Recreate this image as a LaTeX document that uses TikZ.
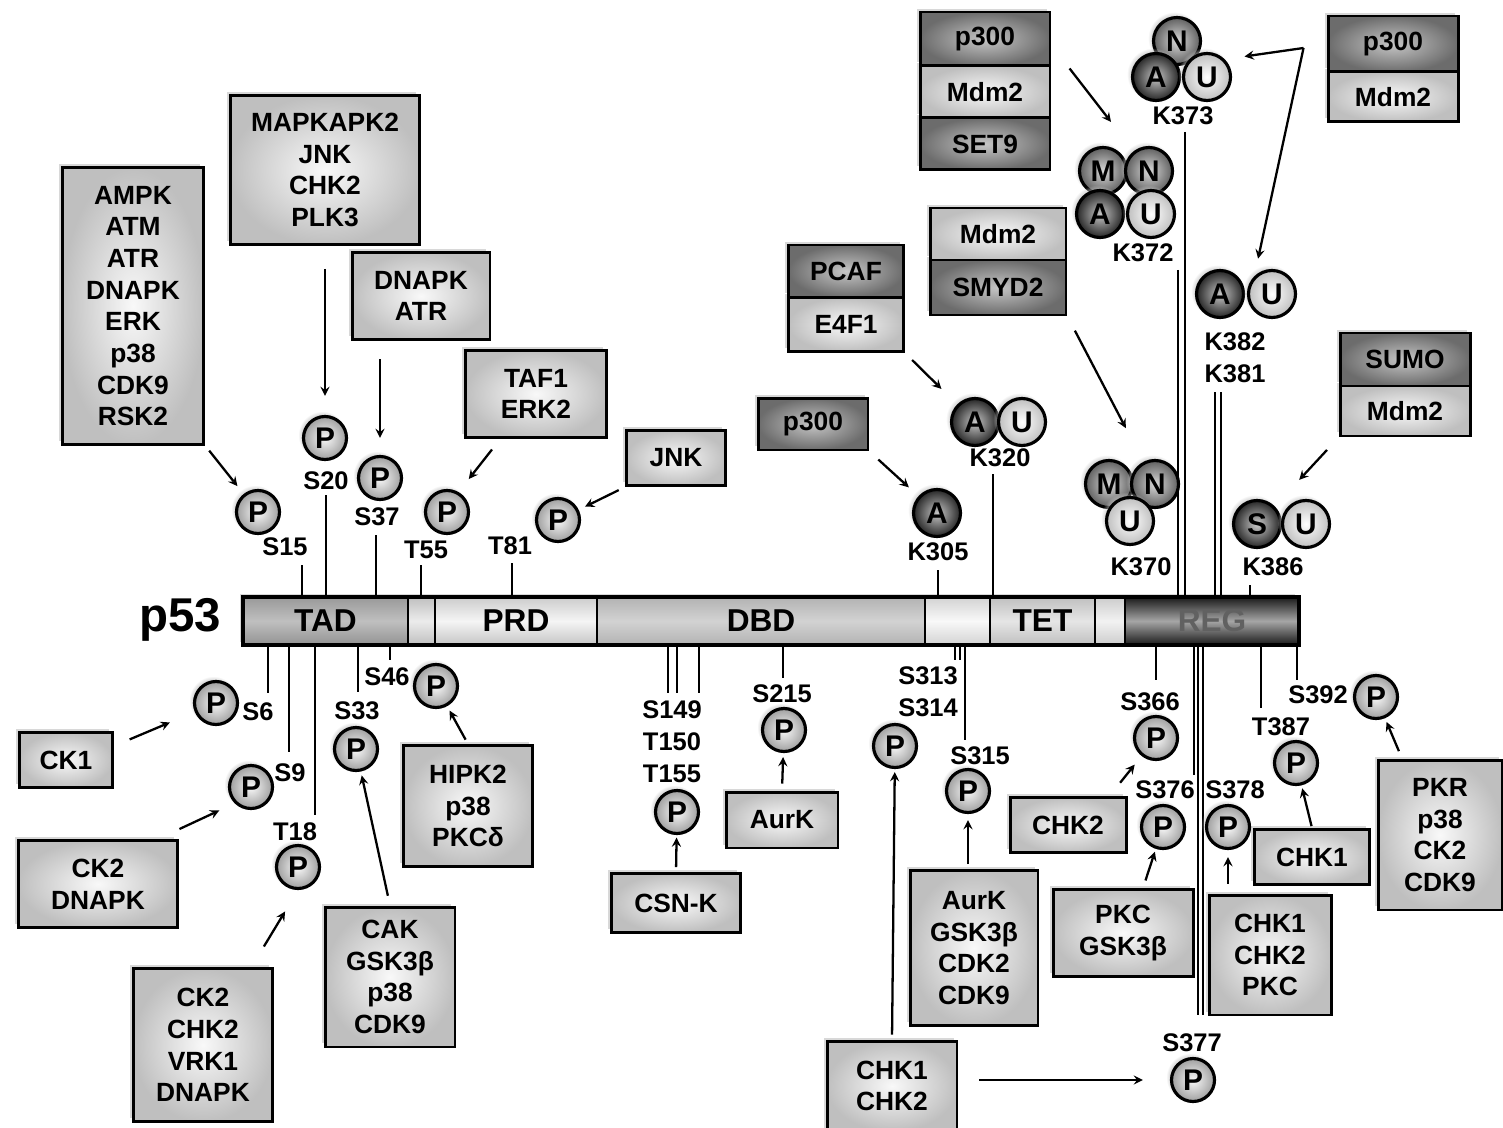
\documentclass[tikz,border=0pt]{standalone}
\usepackage{fontspec}
\setmainfont{Liberation Sans}
\usetikzlibrary{shadows}

\newcommand{\kinfont}{\bfseries\fontsize{15}{18}\selectfont}
\newcommand{\sitefont}{\bfseries\fontsize{14.5}{17}\selectfont}
\newcommand{\modfont}{\bfseries\fontsize{17}{17}\selectfont}
\newcommand{\segfont}{\bfseries\fontsize{18}{18}\selectfont}

\begin{document}
\begin{tikzpicture}[x=0.02cm, y=-0.02cm, >=stealth,
  halo/.style={drop shadow={shadow xshift=-0.07cm, shadow yshift=0.07cm, fill=gray!50, opacity=0.6}},
  kin/.style={draw, line width=1.7pt, halo, inner color=gray!5, outer color=gray!50, align=center, inner sep=0pt, font=\kinfont},
  kindark/.style={kin, inner color=gray!45, outer color=gray!85!black},
  mod/.style={circle, draw, line width=1.8pt, minimum size=0.94cm, inner sep=0pt, font=\modfont,
    circular drop shadow={shadow xshift=-0.05cm, shadow yshift=0.05cm, shadow scale=1.12, fill=gray!50, opacity=0.55}},
  pho/.style={mod, minimum size=0.86cm, inner color=gray!5, outer color=gray!75},
  acet/.style={mod, inner color=gray!45, outer color=black!85},
  methyl/.style={mod, inner color=gray!30, outer color=gray!75!black},
  ubq/.style={mod, inner color=white, outer color=gray!50},
  sumoy/.style={mod, inner color=gray!40, outer color=black!85},
  site/.style={font=\sitefont, inner sep=1pt},
  seg/.style={draw, line width=1.2pt, minimum height=0.96cm, inner sep=0pt, font=\segfont},
  stem/.style={line width=1.6pt},
  arr/.style={->, line width=1.3pt}]

\fill[white] (0,0) rectangle (1503,1128);
\useasboundingbox (0,0) rectangle (1503,1128);

% protein bar
\node[halo, fill=gray!40, minimum width=21.12cm, minimum height=0.96cm, inner sep=0pt] (bar) at (771,621) {};

% site stems
\foreach \x/\y in {302/565, 326/495, 376/535, 421/565, 512/563, 938/570, 993/474, 1178/270, 1185/132, 1215/392, 1221/392, 1250/585}
  \draw[stem] (\x,\y) -- (\x,\y |- bar.north);
\foreach \x/\y in {268/693, 289/752, 315/815, 358/692, 390/660, 668/693, 677/693, 699/693, 783/678, 955/660, 960/660, 965/740, 1156/680, 1194/775, 1198/1015, 1203/1015, 1261/708, 1297/680}
  \draw[stem] (\x,\y |- bar.south) -- (\x,\y);

\node[seg, minimum width=3.3cm, top color=gray!80, bottom color=gray!85, middle color=gray!50] (tad) at (325.5,621) {TAD};
\node[seg, minimum width=0.54cm, top color=gray!50, bottom color=gray!50, middle color=gray!15] (gapa) at (421.5,621) {};
\node[seg, minimum width=3.24cm, top color=gray!40, bottom color=gray!45, middle color=gray!8] (prd) at (516,621) {PRD};
\node[seg, minimum width=6.56cm, top color=gray!60, bottom color=gray!60, middle color=gray!35] (dbd) at (761,621) {DBD};
\node[seg, minimum width=1.3cm, top color=gray!35, bottom color=gray!35, middle color=gray!5] (gapb) at (957.5,621) {};
\node[seg, minimum width=2.1cm, top color=gray!50, bottom color=gray!50, middle color=gray!20] (tet) at (1042.5,621) {TET};
\node[seg, minimum width=0.6cm, top color=gray!40, bottom color=gray!40, middle color=gray!10] (gapc) at (1110,621) {};
\node[seg, minimum width=3.48cm, top color=black!90, bottom color=black!90, middle color=gray!70, text=black!62] (reg) at (1212,621) {REG};
\draw[line width=2.4pt] (bar.north west) rectangle (bar.south east);
\node[font=\bfseries\fontsize{27}{27}\selectfont] (p53) at (180,620) {p53};

% kinases and modifiers above
\node[kin, minimum width=2.84cm, minimum height=5.54cm] (ampk) at (133,306) {AMPK\\ATM\\ATR\\DNAPK\\ERK\\p38\\CDK9\\RSK2};
\node[kin, minimum width=3.8cm, minimum height=2.98cm] (mapk) at (325,170) {MAPKAPK2\\JNK\\CHK2\\PLK3};
\node[kin, minimum width=2.76cm, minimum height=1.76cm] (dnapk) at (421,296) {DNAPK\\ATR};
\node[kin, minimum width=2.82cm, minimum height=1.76cm] (taf) at (536,394) {TAF1\\ERK2};
\node[kin, minimum width=1.98cm, minimum height=1.1cm] (jnk) at (676,458) {JNK};
\node[kindark, minimum width=2.2cm, minimum height=1.04cm] (p300b) at (813,424) {p300};
\node[kin, minimum width=2.3cm, minimum height=1.08cm] (e4f1) at (846,324.5) {E4F1};
\node[kindark, minimum width=2.3cm, minimum height=1.04cm] (pcaf) at (846,271) {PCAF};
\node[kindark, minimum width=2.6cm, minimum height=1.04cm] (set9) at (985,144) {SET9};
\node[kin, minimum width=2.6cm, minimum height=1.04cm] (mdm2a) at (985,92) {Mdm2};
\node[kindark, minimum width=2.6cm, minimum height=1.08cm] (p300a) at (985,39) {p300};
\node[kindark, minimum width=2.72cm, minimum height=1.1cm] (smyd2) at (998,287.5) {SMYD2};
\node[kin, minimum width=2.72cm, minimum height=1.04cm] (mdm2b) at (998,234) {Mdm2};
\node[kin, minimum width=2.6cm, minimum height=1.0cm] (mdm2c) at (1393,97) {Mdm2};
\node[kindark, minimum width=2.6cm, minimum height=1.12cm] (p300c) at (1393,44) {p300};
\node[kin, minimum width=2.6cm, minimum height=1.0cm] (mdm2d) at (1405,411) {Mdm2};
\node[kindark, minimum width=2.6cm, minimum height=1.06cm] (sumo) at (1405,359.5) {SUMO};

% kinases below
\node[kin, minimum width=1.86cm, minimum height=1.1cm] (ck1) at (66,760) {CK1};
\node[kin, minimum width=3.2cm, minimum height=1.74cm] (ck2a) at (98,884) {CK2\\DNAPK};
\node[kin, minimum width=2.8cm, minimum height=3.06cm] (ck2b) at (203,1045) {CK2\\CHK2\\VRK1\\DNAPK};
\node[kin, minimum width=2.6cm, minimum height=2.8cm] (cak) at (390,977) {CAK\\GSK3β\\p38\\CDK9};
\node[kin, minimum width=2.58cm, minimum height=2.42cm] (hipk) at (468,806) {HIPK2\\p38\\PKCδ};
\node[kin, minimum width=2.58cm, minimum height=1.18cm] (csnk) at (676,903) {CSN-K};
\node[kin, minimum width=2.24cm, minimum height=1.12cm] (aurka) at (782,820) {AurK};
\node[kin, minimum width=2.6cm, minimum height=1.8cm] (chkb) at (892,1086) {CHK1\\CHK2};
\node[kin, minimum width=2.56cm, minimum height=3.1cm] (aurkb) at (974,948) {AurK\\GSK3β\\CDK2\\CDK9};
\node[kin, minimum width=2.32cm, minimum height=1.1cm] (chk2c) at (1068,825) {CHK2};
\node[kin, minimum width=2.8cm, minimum height=1.74cm] (pkc) at (1123,933) {PKC\\GSK3β};
\node[kin, minimum width=2.44cm, minimum height=2.4cm] (chkc) at (1270,955) {CHK1\\CHK2\\PKC};
\node[kin, minimum width=2.3cm, minimum height=1.1cm] (chk1r) at (1312,857) {CHK1};
\node[kin, minimum width=2.48cm, minimum height=3.0cm] (pkr) at (1440,835) {PKR\\p38\\CK2\\CDK9};

% phospho sites above
\node[pho] (p15) at (258,512) {P};
\node[pho] (p20) at (325,438) {P};
\node[pho] (p37) at (380,478) {P};
\node[pho] (p55) at (447,512) {P};
\node[pho] (p81) at (558,520) {P};
\node[site] (s15) at (285,547) {S15};
\node[site] (s20) at (326,481) {S20};
\node[site] (s37) at (377,517) {S37};
\node[site] (t55) at (426,550) {T55};
\node[site] (t81) at (510,546) {T81};

% lysine sites
\node[acet] (a305) at (937,513) {A};
\node[site] (k305) at (938,552) {K305};
\node[acet] (a320) at (975,422) {A};
\node[ubq] (u320) at (1022,422) {U};
\node[site] (k320) at (1000,458) {K320};
\node[methyl] (n373) at (1177,41) {N};
\node[acet] (a373) at (1156,77) {A};
\node[ubq] (u373) at (1207,77) {U};
\node[site] (k373) at (1183,116) {K373};
\node[methyl] (m372) at (1103,171) {M};
\node[methyl] (n372) at (1149,171) {N};
\node[acet] (a372) at (1100,214) {A};
\node[ubq] (u372) at (1151,214) {U};
\node[site] (k372) at (1143,253) {K372};
\node[acet] (a382) at (1220,294) {A};
\node[ubq] (u382) at (1272,294) {U};
\node[site] (k382) at (1235,342) {K382};
\node[site] (k381) at (1235,374) {K381};
\node[methyl] (m370) at (1109,484) {M};
\node[methyl] (n370) at (1155,484) {N};
\node[ubq] (u370) at (1130,521) {U};
\node[site] (k370) at (1141,567) {K370};
\node[sumoy] (s386) at (1257,524) {S};
\node[ubq] (u386) at (1306,524) {U};
\node[site] (k386) at (1273,567) {K386};

% phospho sites below
\node[pho] (p6) at (216,703) {P};
\node[pho] (p9) at (251,787) {P};
\node[pho] (p18) at (298,867) {P};
\node[pho] (p33) at (356,749) {P};
\node[pho] (p46) at (436,686) {P};
\node[pho] (p149) at (677,812) {P};
\node[pho] (p215) at (784,730) {P};
\node[pho] (p313) at (895,746) {P};
\node[pho] (p315) at (968,791) {P};
\node[pho] (p366) at (1156,738) {P};
\node[pho] (p376) at (1163,827) {P};
\node[pho] (p378) at (1228,827) {P};
\node[pho] (p377) at (1193,1080) {P};
\node[pho] (p387) at (1296,763) {P};
\node[pho] (p392) at (1376,697) {P};
\node[site] (s6) at (258,712) {S6};
\node[site] (s9) at (290,773) {S9};
\node[site] (t18) at (295,832) {T18};
\node[site] (s33) at (357,711) {S33};
\node[site] (s46) at (387,677) {S46};
\node[site] (s149) at (672,710) {S149};
\node[site] (t150) at (672,742) {T150};
\node[site] (t155) at (672,774) {T155};
\node[site] (s215) at (782,694) {S215};
\node[site] (s313) at (928,676) {S313};
\node[site] (s314) at (928,708) {S314};
\node[site] (s315) at (980,756) {S315};
\node[site] (s366) at (1150,702) {S366};
\node[site] (s376) at (1165,790) {S376};
\node[site] (s378) at (1235,790) {S378};
\node[site] (s377) at (1192,1043) {S377};
\node[site] (t387) at (1281,727) {T387};
\node[site] (s392) at (1318,695) {S392};

% arrows
\coordinate (fork) at ([xshift=-0.46cm, yshift=-0.08cm]p300c.west);
\draw[arr, shorten <=0.12cm, shorten >=0.2cm] (ampk.south east) -- (p15);
\draw[arr, shorten <=0.46cm, shorten >=0.38cm] (mapk.south) -- (p20);
\draw[arr, shorten <=0.36cm, shorten >=0.34cm] (dnapk.south -| p37) -- (p37);
\draw[arr, shorten >=0.33cm] ([xshift=0.56cm, yshift=-0.2cm]taf.south west) -- (p55.60);
\draw[arr, shorten <=0.14cm, shorten >=0.14cm] (jnk.south west) -- (p81);
\draw[arr, shorten <=0.24cm, shorten >=0.26cm] (p300b.south east) -- (a305);
\draw[arr, shorten <=0.2cm, shorten >=0.44cm] (e4f1.south east) -- (a320);
\draw[arr, shorten <=0.1cm, shorten >=0.74cm] ([xshift=0.3cm]mdm2a.north east) -- (n372);
\draw[arr, shorten <=0.32cm, shorten >=0.76cm] (smyd2.south east) -- (n370);
\draw[arr, shorten >=0.4cm] (fork) -- (u373.north east);
\draw[arr, shorten >=0.36cm] (fork) -- (u382.north west);
\draw[arr, shorten <=0.34cm, shorten >=0.72cm] (mdm2d.south west) -- (s386.north east);
\draw[arr, shorten <=0.34cm, shorten >=0.54cm] ([yshift=-0.3cm]ck1.north east) -- (p6);
\draw[arr, shorten >=0.34cm] ([yshift=0.2cm]ck2a.north east) -- (p9.south west);
\draw[arr, shorten <=0.48cm, shorten >=0.5cm] ([xshift=-0.46cm]ck2b.north east) -- (p18.south);
\draw[arr, shorten <=0.2cm, shorten >=0.08cm] (cak.north) -- (p33);
\draw[arr, shorten <=0.1cm, shorten >=0.1cm] (hipk.north) -- (p46);
\draw[arr, shorten <=0.1cm, shorten >=0.05cm] (csnk.north) -- (p149);
\draw[arr, shorten <=0.14cm, shorten >=0.08cm] (aurka.north) -- (p215);
\draw[arr, shorten <=0.1cm, shorten >=0.06cm] (chkb.north) -- (p313);
\draw[arr, shorten <=0.42cm, shorten >=0.54cm] (chkb.east |- p377) -- (p377);
\draw[arr, shorten <=0.1cm, shorten >=0.12cm] (aurkb.north -| p315) -- (p315);
\draw[arr, shorten <=0.34cm, shorten >=0.22cm] ([xshift=-0.36cm]chk2c.north east) -- (p366);
\draw[arr, shorten <=0.16cm, shorten >=0.06cm] ([xshift=0.4cm]pkc.north) -- (p376);
\draw[arr, shorten <=0.2cm, shorten >=0.14cm] (chkc.north -| p378) -- (p378);
\draw[arr, shorten <=0.04cm, shorten >=0.06cm] (chk1r.north) -- (p387);
\draw[arr, shorten <=0.16cm, shorten >=0.08cm] ([xshift=-0.76cm]pkr.north) -- (p392);
\end{tikzpicture}
\end{document}
